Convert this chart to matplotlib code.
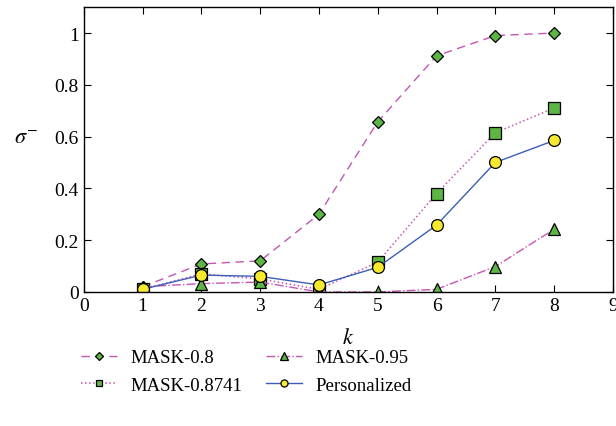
import numpy as np
import matplotlib.pyplot as plt

plt.rcParams['font.family'] = ['Liberation Serif', 'DejaVu Serif']
plt.rcParams['mathtext.fontset'] = 'stix'

# 数据
k = [1, 2, 3, 4, 5, 6, 7, 8]
mask_08 = [0.02, 0.108, 0.12, 0.30, 0.657, 0.912, 0.99, 1.0]
mask_08741 = [0.01, 0.07, 0.05, 0.01, 0.115, 0.38, 0.615, 0.71]
mask_095 = [0.02, 0.032, 0.038, 0.0, 0.0, 0.01, 0.098, 0.242]
personalized = [0.01, 0.065, 0.06, 0.027, 0.095, 0.258, 0.50, 0.585]

green = '#5cb544'
yellow = '#f7ea2e'
magenta = '#c455b4'
blue = '#3a5fb5'

fig = plt.figure(figsize=(6.16, 4.27), dpi=100)
ax = fig.add_axes([0.136, 0.314, 0.859, 0.667])

ax.plot(k, mask_08, '--', color=magenta, lw=1, marker='D', ms=6.5,
        mfc=green, mec='black', mew=0.9, label='MASK-0.8', dashes=(6, 4))
ax.plot(k, mask_08741, ':', color=magenta, lw=1.1, marker='s', ms=8,
        mfc=green, mec='black', mew=0.9, label='MASK-0.8741')
ax.plot(k, mask_095, '-.', color=magenta, lw=1, marker='^', ms=8.5,
        mfc=green, mec='black', mew=0.9, label='MASK-0.95')
ax.plot(k, personalized, '-', color=blue, lw=1, marker='o', ms=8.5,
        mfc=yellow, mec='black', mew=0.9, label='Personalized')

ax.set_xlim(0, 9)
ax.set_ylim(0, 1.1)
ax.set_xticks(range(10))
ax.set_yticks([0, 0.2, 0.4, 0.6, 0.8, 1])
ax.set_yticklabels(['0', '0.2', '0.4', '0.6', '0.8', '1'])
ax.tick_params(direction='in', top=True, right=True, labelsize=14, length=5)
for s in ax.spines.values():
    s.set_linewidth(1)

ax.set_xlabel('$k$', fontsize=16, labelpad=10)
ax.set_ylabel(r'$\sigma^{-}$', fontsize=16, rotation=0, va='center')
ax.yaxis.set_label_coords(-0.11, 0.54)

h, l = ax.get_legend_handles_labels()
fig.legend(h, l, ncol=2, frameon=False, fontsize=13.5, loc='center',
           bbox_to_anchor=(0.40, 0.128), handlelength=1.9, markerscale=0.6,
           columnspacing=1.3, labelspacing=0.55, handletextpad=0.7,
           borderpad=0.0)

fig.savefig('out.png', dpi=100)
